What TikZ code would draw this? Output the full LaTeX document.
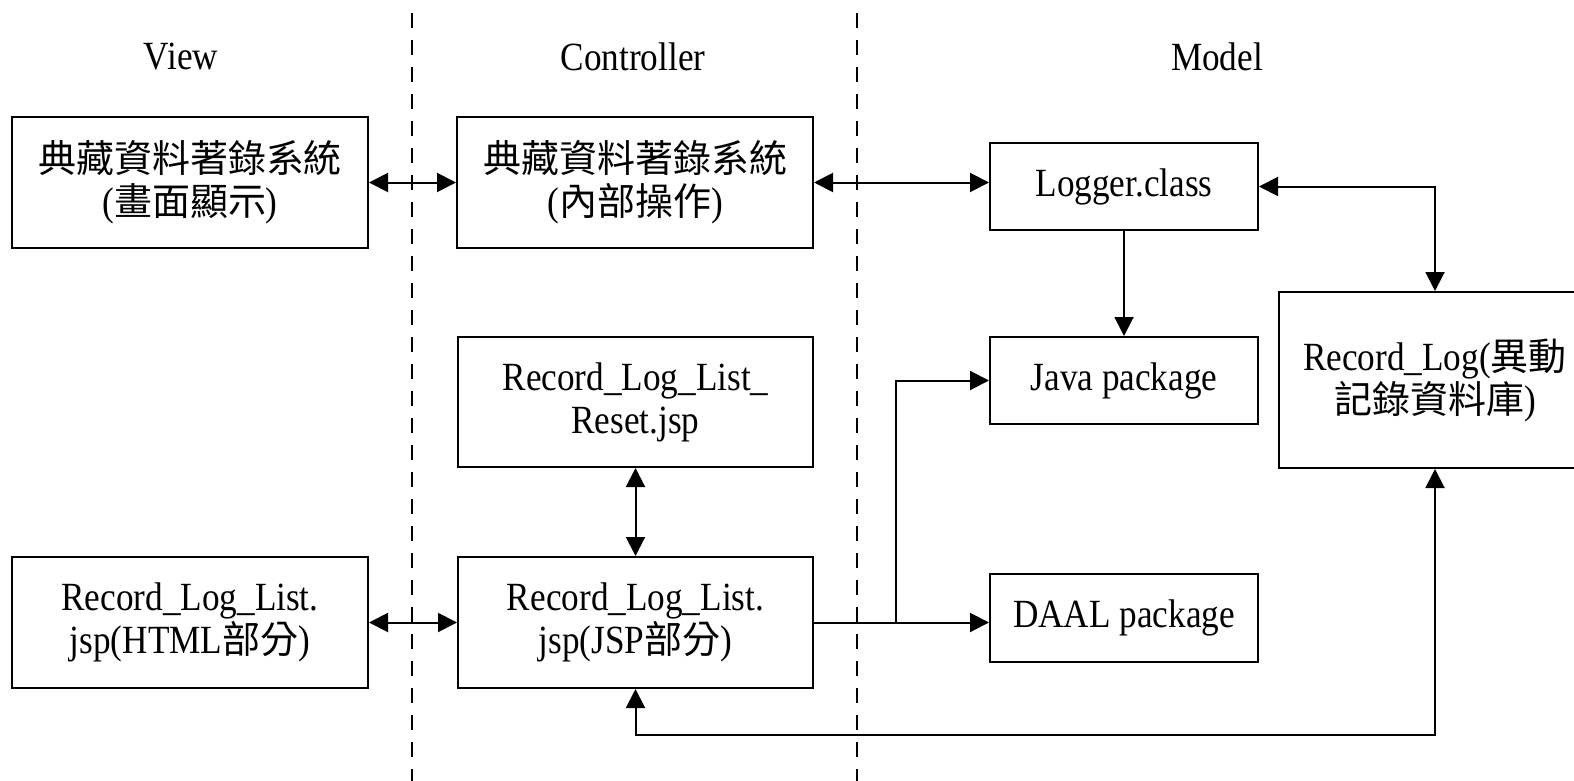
\documentclass[tikz,border=0pt]{standalone}
\usepackage{fontspec}
\setmainfont{Liberation Serif}[FakeStretch=0.88]
\newfontfamily\cjkfont{Noto Sans CJK TC}[Scale=0.95]
\newcommand\zh[1]{{\cjkfont #1}}
\usetikzlibrary{arrows.meta}
\tikzset{
  >={Triangle[length=19pt,width=19pt]},
  txt/.style={font=\fontsize{40}{43}\selectfont, inner sep=0pt, align=center},
  box/.style={txt, draw, line width=2pt, rectangle},
  link/.style={line width=2pt},
  divider/.style={line width=2pt, dash pattern=on 15pt off 12pt},
}
\begin{document}
\begin{tikzpicture}[x=1pt, y=-1pt]
\clip (0,0) rectangle (1574,781);
\fill[white] (0,0) rectangle (1574,781);

% layer dividers
\draw[divider] (412,13) -- (412,781);
\draw[divider] (857,13) -- (857,781);

% layer headings
\node[txt] (hView) at (181,57) {View};
\node[txt] (hCtrl) at (633,57) {Controller};
\node[txt] (hModel) at (1217,57) {Model};

% view layer
\node[box, minimum width=356pt, minimum height=131pt] (viewSys) at (190,182.5)
  {\zh{典藏資料著錄系統}\\(\zh{畫面顯示})};
\node[box, minimum width=356pt, minimum height=131pt] (viewList) at (190,622.5)
  {Record\_Log\_List.\\jsp(HTML\zh{部分})};

% controller layer
\node[box, minimum width=356pt, minimum height=131pt] (ctrlSys) at (635,182.5)
  {\zh{典藏資料著錄系統}\\(\zh{內部操作})};
\node[box, minimum width=355pt, minimum height=130pt] (ctrlReset) at (635.5,402)
  {Record\_Log\_List\_\\Reset.jsp};
\node[box, minimum width=355pt, minimum height=131pt] (ctrlList) at (635.5,622.5)
  {Record\_Log\_List.\\jsp(JSP\zh{部分})};

% model layer
\node[box, minimum width=268pt, minimum height=87pt] (logger) at (1124,186.5) {Logger.class};
\node[box, minimum width=268pt, minimum height=87pt] (javaPkg) at (1124,380.5) {Java package};
\node[box, minimum width=268pt, minimum height=88pt] (daalPkg) at (1124,618) {DAAL package};
\node[box, minimum width=312pt, minimum height=176pt] (recLog) at (1435,380)
  {Record\_Log(\zh{異動}\\\zh{記錄資料庫})};

% routing points
\coordinate (branch) at (896,0);
\coordinate (rail) at (1435,735);

% connectors
\draw[link, <->] (viewSys.east) -- (ctrlSys.west);
\draw[link, <->] (ctrlSys.east) -- (ctrlSys.east -| logger.west);
\draw[link, <->] (logger.east) -| (recLog.north);
\draw[link, ->] (logger.south) -- (javaPkg.north);
\draw[link, <->] (ctrlReset.south) -- (ctrlList.north);
\draw[link, <->] (viewList.east) -- (ctrlList.west);
\draw[link, ->] (ctrlList.east) -- (ctrlList.east -| daalPkg.west);
\draw[link, ->] (branch |- ctrlList.east) -- (branch |- javaPkg.west) -- (javaPkg.west);
\draw[link, <->] (ctrlList.south) |- (rail) -- (recLog.south);
\end{tikzpicture}
\end{document}
